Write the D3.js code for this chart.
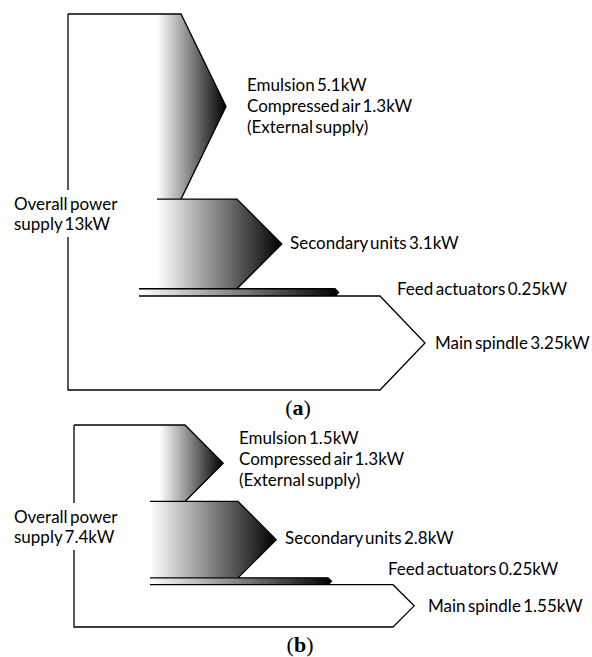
<!DOCTYPE html>
<html>
<head>
<meta charset="utf-8">
<script src="https://cdn.jsdelivr.net/npm/d3@7"></script>
<style>
    body { margin: 0; background: #fff; }
    svg text { font-family: "Lato", "Open Sans", sans-serif; font-size: 17px; word-spacing: -2px; fill: #000; }
    .caption { font-family: "Liberation Serif", "DejaVu Serif", serif; font-size: 22px; word-spacing: 0; }
</style>
</head>
<body>
<div id="chart"></div>
<script>

// values, (a) and (b)
var panelNames = ["a", "b"];
var flowNames = ["Emulsion", "Secondary units", "Feed actuators", "Main spindle"];
var totalKW = [13, 7.4];
var emulsionKW = [5.1, 1.5];
var compressedAirKW = [1.3, 1.3];
var secondaryKW = [3.1, 2.8];
var feedKW = [0.25, 0.25];
var spindleKW = [3.25, 1.55];

// placement of each panel on the page
var layout = [
    {left: 68, top: 14, bottom: 390,
     bodyEnd: [181, 237, 335, 380], innerLeft: [157, 157, 139, 139],
     labelX: [247, 290, 397, 435], labelDy: [5, 5, 3, 6],
     overall: {x: 14, y: 210}, caption: {x: 298, y: 415}},
    {left: 74, top: 425, bottom: 627,
     bodyEnd: [185, 238, 328, 393], innerLeft: [160, 150, 150, 150],
     labelX: [239, 285, 388, 428], labelDy: [2, 4, -6, 6],
     overall: {x: 14, y: 523}, caption: {x: 300, y: 652}}
];

var width = 592, height = 657;

var svg = d3.select("#chart").append("svg")
    .attr("width", width)
    .attr("height", height);

var defs = svg.append("defs");
var grad = defs.append("linearGradient")
    .attr("id", "fade")
    .attr("x1", "0").attr("x2", "1")
    .attr("y1", "0").attr("y2", "0");
grad.append("stop").attr("offset", "0%").attr("stop-color", "#fff");
grad.append("stop").attr("offset", "100%").attr("stop-color", "#000");

function fmt(v) { return v + "kW"; }

function drawPanel(i) {
    var lay = layout[i];
    var g = svg.append("g").attr("class", "panel-" + panelNames[i]);

    var values = [emulsionKW[i] + compressedAirKW[i], secondaryKW[i], feedKW[i], spindleKW[i]];

    var y = d3.scaleLinear()
        .domain([0, totalKW[i]])
        .range([lay.top, lay.bottom]);

    // stack the flows top to bottom
    var acc = 0;
    var bands = values.map(function(v, k) {
        var b = {name: flowNames[k], value: v, y0: y(acc), y1: y(acc + v)};
        acc += v;
        b.mid = (b.y0 + b.y1) / 2;
        b.depth = Math.min((b.y1 - b.y0) / 2, 45);
        b.end = lay.bodyEnd[k];
        b.tip = b.end + b.depth;
        b.x0 = lay.innerLeft[k];
        return b;
    });

    // gradient filled arrows (all but the spindle)
    g.selectAll("path.fill")
        .data(bands.slice(0, 3))
        .enter().append("path")
        .attr("class", "fill")
        .attr("fill", "url(#fade)")
        .attr("stroke", "none")
        .attr("d", function(b) {
            var p = d3.path();
            p.moveTo(b.x0, b.y0);
            p.lineTo(b.end, b.y0);
            p.lineTo(b.tip, b.mid);
            p.lineTo(b.end, b.y1);
            p.lineTo(b.x0, b.y1);
            p.closePath();
            return p.toString();
        });

    // outline
    var o = d3.path();
    bands.forEach(function(b, k) {
        o.moveTo(k === 0 ? lay.left : b.x0, b.y0);
        o.lineTo(b.end, b.y0);
        o.lineTo(b.tip, b.mid);
        o.lineTo(b.end, b.y1);
    });
    o.lineTo(lay.left, lay.bottom);
    o.lineTo(lay.left, lay.top);

    g.append("path")
        .attr("d", o.toString())
        .attr("fill", "none")
        .attr("stroke", "#000")
        .attr("stroke-width", 1.3)
        .attr("stroke-linejoin", "miter");

    // labels
    var labelLines = [
        [flowNames[0] + " " + fmt(emulsionKW[i]), "Compressed air " + fmt(compressedAirKW[i]), "(External supply)"],
        [flowNames[1] + " " + fmt(secondaryKW[i])],
        [flowNames[2] + " " + fmt(feedKW[i])],
        [flowNames[3] + " " + fmt(spindleKW[i])]
    ];
    var lineH = 21;

    bands.forEach(function(b, k) {
        var lines = labelLines[k];
        var t = g.append("text")
            .attr("x", lay.labelX[k])
            .attr("y", b.mid + lay.labelDy[k] - (lines.length - 1) / 2 * lineH);
        lines.forEach(function(s, j) {
            t.append("tspan")
                .attr("x", lay.labelX[k])
                .attr("dy", j === 0 ? 0 : lineH)
                .text(s);
        });
    });

    // overall supply text sits on a white patch over the left edge
    var ov = g.append("text")
        .attr("x", lay.overall.x)
        .attr("y", lay.overall.y);
    ov.append("tspan").attr("x", lay.overall.x).text("Overall power");
    ov.append("tspan").attr("x", lay.overall.x).attr("dy", 20).text("supply " + fmt(totalKW[i]));
    var bb = ov.node().getBBox();
    g.insert("rect", "text")
        .attr("x", bb.x - 2)
        .attr("y", bb.y - 3)
        .attr("width", bb.width + 4)
        .attr("height", bb.height + 6)
        .attr("fill", "#fff");

    var cap = g.append("text")
        .attr("class", "caption")
        .attr("x", lay.caption.x)
        .attr("y", lay.caption.y)
        .attr("text-anchor", "middle");
    cap.append("tspan").text("(");
    cap.append("tspan").attr("font-weight", "bold").text(panelNames[i]);
    cap.append("tspan").text(")");
}

panelNames.forEach(function(d, i) { drawPanel(i); });

</script>
</body>
</html>
